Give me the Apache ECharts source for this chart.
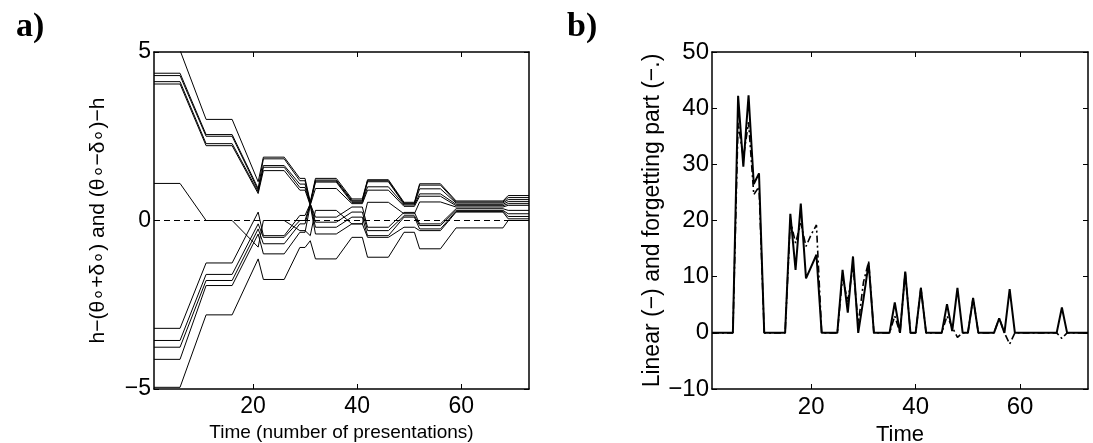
<!DOCTYPE html>
<html>
<head>
<meta charset="utf-8">
<script src="https://cdn.jsdelivr.net/npm/echarts@6/dist/echarts.min.js"></script>
<style>
  html, body { margin: 0; padding: 0; background: #fff; }
  #main { width: 1093px; height: 443px; }
</style>
</head>
<body>
<div id="main"></div>
<script>
// panel a: breakpoints in time and the value of each trace at them
const timesA = [1, 6, 11, 16, 21, 22, 26, 29, 30, 31, 32, 36, 39, 41, 42, 46, 49, 51, 52, 56, 59, 68, 69, 73]
const upper1 = [5.05, 5.05, 3.0, 3.0, 1.15, 1.88, 1.88, 1.25, 1.25, 0.55, 1.25, 1.25, 0.64, 0.64, 1.21, 1.21, 0.54, 0.54, 1.09, 1.09, 0.58, 0.58, 0.74, 0.74]
const upper2 = [4.37, 4.37, 2.55, 2.55, 0.95, 1.83, 1.83, 1.18, 1.18, 0.52, 1.2, 1.2, 0.6, 0.6, 1.18, 1.18, 0.51, 0.51, 1.05, 1.05, 0.55, 0.55, 0.68, 0.68]
const upper3 = [4.30, 4.30, 2.5, 2.5, 0.9, 1.63, 1.63, 1.08, 1.08, 0.5, 1.17, 1.17, 0.57, 0.57, 1.15, 1.15, 0.49, 0.49, 0.94, 0.94, 0.52, 0.52, 0.62, 0.62]
const upper4 = [4.12, 4.12, 2.28, 2.28, 0.85, 1.58, 1.58, 0.98, 0.98, 0.48, 1.14, 1.14, 0.53, 0.53, 1.0, 1.0, 0.46, 0.46, 0.79, 0.79, 0.48, 0.48, 0.56, 0.56]
const upper5 = [4.05, 4.05, 2.22, 2.22, 0.8, 1.48, 1.48, 0.9, 0.9, 0.45, 0.95, 0.95, 0.5, 0.5, 0.9, 0.9, 0.42, 0.42, 0.72, 0.72, 0.44, 0.44, 0.5, 0.5]
const middle = [1.1, 1.1, 0.0, 0.0, -0.79, 0.0, 0.0, -0.3, -0.3, -0.45, 0.3, 0.3, -0.1, -0.1, 0.54, 0.54, 0.2, 0.2, 0.55, 0.55, 0.4, 0.4, 0.45, 0.45]
const lower1 = [-3.2, -3.2, -1.26, -1.26, 0.25, -0.45, -0.45, 0.15, 0.15, 0.5, 0.1, 0.1, 0.4, 0.4, -0.2, -0.2, 0.24, 0.24, -0.1, -0.1, 0.35, 0.35, 0.3, 0.3]
const lower2 = [-3.56, -3.56, -1.6, -1.6, -0.1, -0.5, -0.5, 0.0, 0.0, 0.5, -0.05, -0.05, 0.25, 0.25, -0.3, -0.3, 0.14, 0.14, -0.15, -0.15, 0.3, 0.3, 0.2, 0.2]
const lower3 = [-3.76, -3.76, -1.78, -1.78, -0.25, -0.69, -0.69, -0.1, -0.1, 0.48, -0.2, -0.2, 0.1, 0.1, -0.45, -0.45, 0.1, 0.1, -0.25, -0.25, 0.27, 0.27, 0.12, 0.12]
const lower4 = [-4.12, -4.12, -1.93, -1.93, -0.4, -0.99, -0.99, -0.35, -0.35, 0.45, -0.4, -0.4, -0.1, -0.1, -0.5, -0.5, -0.2, -0.2, -0.3, -0.3, 0.25, 0.25, 0.05, 0.05]
const lower5 = [-4.95, -4.95, -2.8, -2.8, -1.14, -1.75, -1.75, -0.8, -0.8, -0.6, -1.14, -1.14, -0.5, -0.5, -1.09, -1.09, -0.35, -0.35, -0.84, -0.84, -0.22, -0.22, 0.0, 0.0]
const tracesA = [upper1, upper2, upper3, upper4, upper5, middle, lower1, lower2, lower3, lower4, lower5]

// panel b: one value per presentation, t = 1..73
const linearPart = [
  0, 0, 0, 0, 0,
  42.2, 29.6, 42.3, 26.5, 28.4,
  0, 0, 0, 0, 0,
  21.2, 11.2, 23.0, 9.7, 11.8, 13.9,
  0, 0, 0, 0,
  11.2, 3.6, 13.6, 0, 6.0, 12.4,
  0, 0, 0, 0,
  5.4, 0, 10.9, 0, 0, 8.0, 0,
  0, 0, 0,
  5.1, 0.3, 8.0, 0, 0, 6.2, 0,
  0, 0, 0,
  2.6, 0, 7.8, 0,
  0, 0, 0, 0, 0, 0, 0, 0,
  4.5,
  0, 0, 0, 0, 0
]
const forgettingPart = [
  0, 0, 0, 0, 0,
  37.4, 31.2, 37.5, 24.6, 26.0,
  0, 0, 0, 0, 0,
  20.0, 16.0, 19.5, 15.4, 17.5, 19.2,
  0, 0, 0, 0,
  10.0, 5.5, 12.0, 1.5, 9.0, 12.7,
  0, 0, 0, 0,
  3.0, 0, 10.9, 0, 0, 8.0, 0,
  0, 0, 0,
  3.0, 1.0, -0.8, 0, 0, 6.2, 0,
  0, 0, 0,
  2.6, 0, -2.0, 0,
  0, 0, 0, 0, 0, 0, 0, 0,
  -1.0,
  0, 0, 0, 0, 0
]

const xTicks = [20, 40, 60]

const font = 'Liberation Sans, Arial, sans-serif'
const minus = v => String(v).replace('-', '\u2212')

function xAxes(gridIndex, name, nameSize, labelSize, nameGap) {
  return [
    {
      gridIndex, type: 'value', min: 1, max: 73, position: 'bottom',
      name, nameLocation: 'middle', nameGap,
      nameTextStyle: { color: '#000', fontSize: nameSize, fontFamily: font },
      axisLine: { show: true, onZero: false, lineStyle: { color: '#000', width: 1.5 } },
      axisTick: { show: true, inside: true, length: 5, customValues: xTicks, lineStyle: { color: '#000' } },
      axisLabel: { show: true, customValues: xTicks, margin: 6, color: '#000', fontSize: labelSize, fontFamily: font },
      splitLine: { show: false }
    },
    {
      gridIndex, type: 'value', min: 1, max: 73, position: 'top',
      axisLine: { show: true, onZero: false, lineStyle: { color: '#000', width: 1.5 } },
      axisTick: { show: true, inside: true, length: 5, customValues: xTicks, lineStyle: { color: '#000' } },
      axisLabel: { show: false },
      splitLine: { show: false }
    }
  ]
}

function yAxes(gridIndex, min, max, interval, name, nameGap, nameSize, labelSize) {
  return [
    {
      gridIndex, type: 'value', min, max, interval, position: 'left',
      name, nameLocation: 'middle', nameGap,
      nameTextStyle: { color: '#000', fontSize: nameSize, fontFamily: font },
      axisLine: { show: true, onZero: false, lineStyle: { color: '#000', width: 1.5 } },
      axisTick: { show: true, inside: true, length: 5, lineStyle: { color: '#000' } },
      axisLabel: { show: true, margin: 3, color: '#000', fontSize: labelSize, fontFamily: font, formatter: minus },
      splitLine: { show: false }
    },
    {
      gridIndex, type: 'value', min, max, interval, position: 'right',
      axisLine: { show: true, onZero: false, lineStyle: { color: '#000', width: 1.5 } },
      axisTick: { show: true, inside: true, length: 5, lineStyle: { color: '#000' } },
      axisLabel: { show: false },
      splitLine: { show: false }
    }
  ]
}

const seriesA = tracesA.map((vals, i) => ({
  type: 'line',
  xAxisIndex: 0, yAxisIndex: 0,
  data: timesA.map((t, j) => [t, vals[j]]),
  showSymbol: false,
  clip: true,
  silent: true,
  lineStyle: { color: '#000', width: 1 },
  markLine: i === 0 ? {
    silent: true, symbol: 'none', label: { show: false },
    lineStyle: { color: '#000', type: [6, 4], width: 1 },
    data: [{ yAxis: 0 }]
  } : undefined
}))

const seriesB = [
  {
    type: 'line',
    xAxisIndex: 2, yAxisIndex: 2,
    data: forgettingPart.map((v, j) => [j + 1, v]),
    showSymbol: false, silent: true,
    lineStyle: { color: '#000', width: 1.6, type: [7, 3, 2, 3] }
  },
  {
    type: 'line',
    xAxisIndex: 2, yAxisIndex: 2,
    data: linearPart.map((v, j) => [j + 1, v]),
    showSymbol: false, silent: true,
    lineStyle: { color: '#000', width: 2 }
  }
]

const chart = echarts.init(document.getElementById('main'))
chart.setOption({
  animation: false,
  backgroundColor: '#fff',
  title: [
    { text: 'a)', left: 11, top: 5, textStyle: { fontFamily: 'Liberation Serif, serif', fontWeight: 'bold', fontSize: 34, color: '#000' } },
    { text: 'b)', left: 562, top: 5, textStyle: { fontFamily: 'Liberation Serif, serif', fontWeight: 'bold', fontSize: 34, color: '#000' } }
  ],
  grid: [
    { left: 154, top: 52, width: 375, height: 337, outerBoundsMode: 'none' },
    { left: 712, top: 52, width: 376, height: 337, outerBoundsMode: 'none' }
  ],
  xAxis: [
    ...xAxes(0, 'Time (number of presentations)', 19, 23, 27),
    ...xAxes(1, 'Time', 22, 24, 27)
  ],
  yAxis: [
    ...yAxes(0, -5, 5, 5, 'h\u2212(\u03b8\u2218+\u03b4\u2218) and (\u03b8\u2218\u2212\u03b4\u2218)\u2212h', 45, 21, 23),
    ...yAxes(1, -10, 50, 10, 'Linear (\u2212) and forgetting part (\u2212.)', 39, 23, 24)
  ],
  series: [...seriesA, ...seriesB]
})
</script>
</body>
</html>
